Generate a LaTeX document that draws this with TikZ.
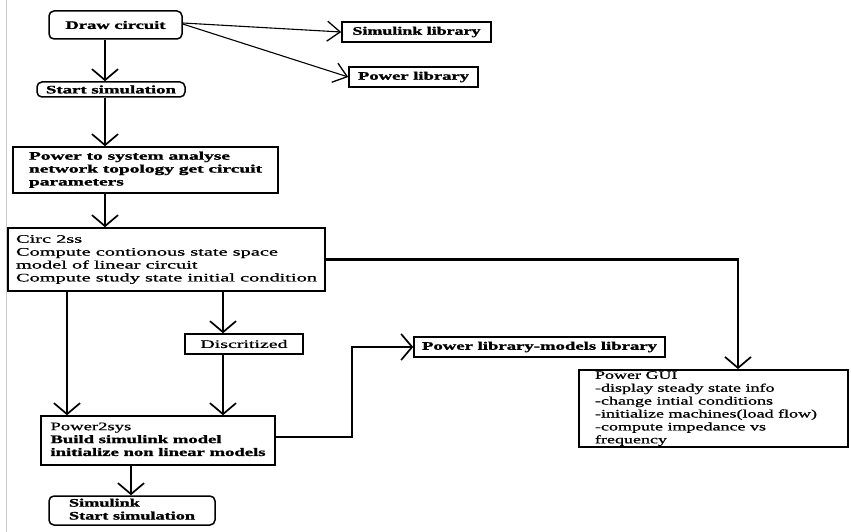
\documentclass[tikz,border=0pt]{standalone}
\usepackage{fontspec}
\usepackage{graphicx}
\setmainfont{Liberation Serif}[UprightFeatures={FakeBold=0.7}, BoldFeatures={FakeBold=1.2}]
\usetikzlibrary{arrows.meta}
\newsavebox\tbox
\newcommand\fitw[2]{\sbox\tbox{#2}\pgfmathsetmacro\myfr{#1/\the\wd\tbox}\scalebox{\myfr}[1]{\usebox\tbox}}
\newcommand\lns[1]{\begin{tabular}{@{}l@{}}#1\end{tabular}}
\tikzset{
  box/.style={draw, line width=1.5pt, inner sep=0pt, fill=white, font=\fontsize{11.5}{12.9}\selectfont},
  rbox/.style={box, rounded corners=5pt},
  arr/.style={line width=2.2pt, -{Straight Barb[length=11pt, width=26pt, line width=1.7pt]}},
  thinarr/.style={line width=1.1pt, -{Straight Barb[length=13pt, width=20pt, line width=1.3pt]}}
}
\begin{document}
\begin{tikzpicture}[x=1pt, y=-1pt]
\fill[white] (0,0) rectangle (851,532);
\useasboundingbox (0,0) rectangle (851,532);
\draw[black!20, line width=1pt] (6,0) -- (6,532);

\node[rbox, minimum width=133, minimum height=28] (draw) at (115.5,25) {\fitw{100}{\bfseries Draw circuit}};
\node[box, minimum width=149, minimum height=20] (simlib) at (416.5,32) {\fitw{128}{\bfseries Simulink library}};
\node[box, minimum width=129, minimum height=20] (powlib) at (413.5,77) {\fitw{111}{\bfseries Power library}};
\node[rbox, minimum width=148, minimum height=15] (start) at (111,89.5) {\fitw{130}{\bfseries Start simulation}};
\node[box, minimum width=265, minimum height=46] (pts) at (145.5,170) {\fitw{233}{\bfseries\lns{Power to system analyse\\ network topology get circuit\\ parameters}}};
\node[box, minimum width=317, minimum height=63] (circ) at (166.5,259.5) {\fitw{301}{\lns{Circ 2ss\\ Compute contionous state space\\ model of linear circuit\\ Compute study state initial condition}}};
\node[box, minimum width=118, minimum height=20] (disc) at (244,344) {\fitw{87}{Discritized}};
\node[box, minimum width=251, minimum height=20] (pml) at (539.5,347) {\fitw{235}{\bfseries Power library-models library}};
\node[box, minimum width=269, minimum height=77] (gui) at (713.5,408.5) {\fitw{222}{\lns{Power GUI\\ -display steady state info\\ -change intial conditions\\ -initialize machines(load flow)\\ -compute impedance vs\\ frequency}}\hspace*{15pt}};
\node[box, minimum width=234, minimum height=49] (p2s) at (158,440.5) {\fitw{215}{\lns{Power2sys\\ \textbf{Build simulink model}\\ \textbf{initialize non linear models}}}};
\node[rbox, minimum width=166, minimum height=29] (sim) at (132,510.5) {\fitw{126}{\bfseries\lns{Simulink\\ Start simulation}}};

\coordinate (xa) at (105,0);
\coordinate (xb) at (67,0);
\coordinate (xc) at (223,0);
\coordinate (xd) at (738,0);
\coordinate (xe) at (352,0);
\coordinate (xf) at (131,0);

\draw[arr] (draw.south -| xa) -- (start.north -| xa);
\draw[arr] (start.south -| xa) -- (pts.north -| xa);
\draw[arr] (pts.south -| xa) -- (circ.north -| xa);
\draw[arr] (circ.south -| xb) -- (p2s.north -| xb);
\draw[arr] (circ.south -| xc) -- (disc.north -| xc);
\draw[arr] (disc.south -| xc) -- (p2s.north -| xc);
\draw[arr] (circ.east) -- (circ.east -| xd) -- (gui.north -| xd);
\draw[arr] ([yshift=3.5pt]p2s.east) -- ([yshift=3.5pt]p2s.east -| xe) -- (pml.west -| xe) -- (pml.west);
\draw[arr] (p2s.south -| xf) -- (sim.north -| xf);
\draw[thinarr] ([yshift=2pt]draw.east) -- (simlib.west);
\draw[thinarr] ([yshift=1pt]draw.east) -- (powlib.west);
\end{tikzpicture}
\end{document}
